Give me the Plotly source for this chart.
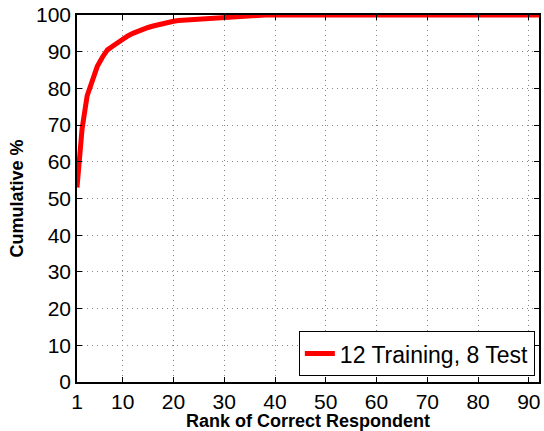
import plotly.graph_objects as go

ranks = list(range(1, 93))
cumulative = [53, 69, 78, 82.5, 86, 88.5, 90.5, 91.5, 92.5, 93.5,
              94.3, 95, 95.6, 96.1, 96.6, 97, 97.4, 97.7, 98, 98.3,
              98.5, 98.6, 98.7, 98.8, 99, 99.1, 99.2, 99.3, 99.4, 99.55,
              99.65, 99.75, 99.8, 99.85, 99.9, 99.95, 99.97, 100, 100, 100] + [100] * 52
series_name = "12 Training, 8 Test"
x_ticks = [1, 10, 20, 30, 40, 50, 60, 70, 80, 90]
y_ticks = list(range(0, 101, 10))

FONT = "Liberation Sans, Arial, Helvetica, sans-serif"

fig = go.Figure()
fig.add_trace(go.Scatter(x=ranks, y=cumulative, mode="lines", name=series_name,
                         line=dict(color="#ff0000", width=5)))

axis_common = dict(showline=True, linecolor="black", linewidth=1.5, mirror="ticks",
                   ticks="inside", ticklen=5, tickcolor="black", tickwidth=1,
                   showgrid=True, gridcolor="#888888", griddash="1px,4px", gridwidth=1,
                   zeroline=False, automargin=False,
                   tickfont=dict(family=FONT, size=21, color="black"))

fig.update_layout(
    width=544, height=431,
    margin=dict(l=77, r=5, t=15, b=49),
    plot_bgcolor="white", paper_bgcolor="white",
    showlegend=True,
    legend=dict(x=0.991, y=0.016, xanchor="right", yanchor="bottom",
                bgcolor="white", bordercolor="black", borderwidth=1,
                font=dict(family=FONT, size=23, color="black")),
    xaxis=dict(range=[1, 92], tickvals=x_ticks, **axis_common,
               title=dict(text="<b>Rank of Correct Respondent</b>", standoff=0,
                          font=dict(family=FONT, size=18, color="black"))),
    yaxis=dict(range=[0, 100], tickvals=y_ticks, **axis_common,
               title=dict(text="<b>Cumulative %</b>", standoff=8,
                          font=dict(family=FONT, size=18, color="black"))),
)

fig.write_html("out.html", config={"displayModeBar": False},
               post_script="document.body.style.margin='0';document.body.style.overflow='hidden';")
